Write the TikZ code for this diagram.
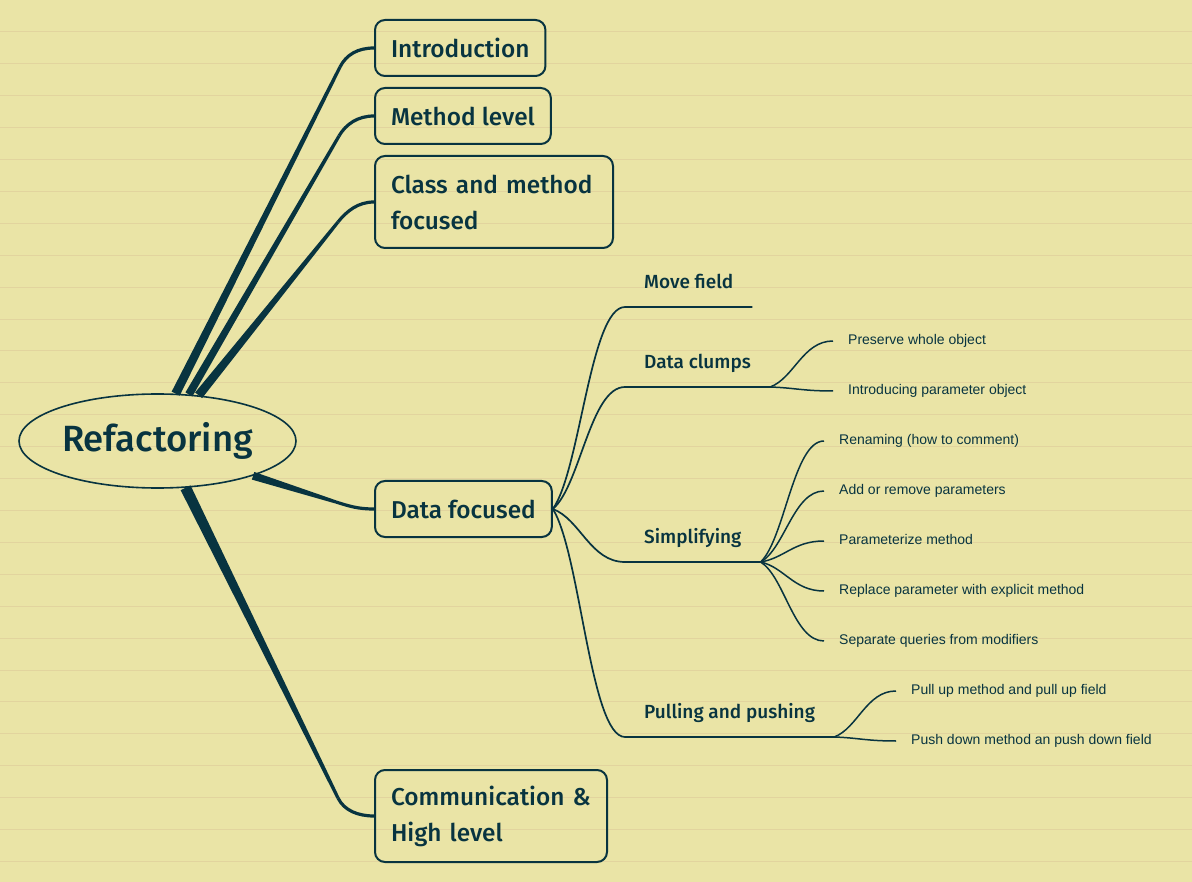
\documentclass[tikz,border=0pt]{standalone}
\usepackage{fontspec}
\setmainfont{Fira Sans}[BoldFont={Fira Sans Medium}]
\newfontfamily\leaffont{Liberation Sans}
\usepackage{tikz}
\usetikzlibrary{calc, shapes.geometric}
\definecolor{mm_ink}{RGB}{8, 52, 64}
\definecolor{mm_paper}{RGB}{234, 228, 166}
\definecolor{mm_rule}{RGB}{226, 212, 158}

% tapered main branch: start, corner, end, half width at start
\newcommand{\taper}[4]{%
  \fill[mm_ink] ($(#1)!#4!90:(#2)$) -- ($(#2)!1.6pt!-90:(#1)$)
    -- ($(#2)!1.6pt!90:(#1)$) -- ($(#1)!#4!-90:(#2)$) -- cycle;
  \draw[mm_ink, line width=3.2pt] (#2) .. controls ($(#2)!-14pt!(#1)$)
    and ($(#3)+(-16,0)$) .. (#3);
}

\begin{document}
\begin{tikzpicture}[x=1pt, y=-1pt,
    topic/.style={rectangle, rounded corners=10pt, draw=mm_ink, line width=2pt,
                  font=\fontsize{24.4}{36}\selectfont\bfseries, text=mm_ink,
                  align=left, anchor=west, inner xsep=16pt, inner ysep=6pt,
                  minimum height=56pt},
    sub/.style={font=\fontsize{19}{22}\selectfont\bfseries, text=mm_ink,
                anchor=south west, inner xsep=19pt, inner ysep=14pt,
                text height=14pt, text depth=4pt},
    leaf/.style={font=\leaffont\fontsize{14}{16}\selectfont, text=mm_ink,
                 anchor=west, inner xsep=15pt, text height=10pt, text depth=3pt},
    twig/.style={draw=mm_ink, line width=1.7pt},
    leafline/.style={draw=mm_ink, line width=1.5pt},
    curvy/.style={to path={let \p1=(\tikztostart), \p2=(\tikztotarget) in
        .. controls ($(\p1)+({0.38*(\x2-\x1)},{0.19*(\y2-\y1)})$)
        and ($(\p2)+({-0.48*(\x2-\x1)},0)$) .. (\tikztotarget)}},
  ]
  \useasboundingbox (0,0) rectangle (1192,882);
  \fill[mm_paper] (0,0) rectangle (1192,882);
  \foreach \k in {1,...,27}
    \draw[mm_rule, line width=0.8pt] (0,{31.9*\k}) -- (1192,{31.9*\k});

  % root
  \node[ellipse, draw=mm_ink, line width=1.6pt, minimum width=277pt,
        minimum height=94pt, inner sep=0pt, text=mm_ink,
        font=\fontsize{36.5}{40}\selectfont\bfseries] (root) at (157.5,441) {Refactoring};

  % topics
  \node[topic] (intro) at (374,48) {Introduction};
  \node[topic] (meth) at (374,116) {Method level};
  \node[topic, minimum height=92pt, text width=206pt] (cls) at (374,202)
    {Class and method\\focused};
  \node[topic] (data) at (374,509) {Data focused};
  \node[topic, minimum height=92pt, text width=200pt] (comm) at (374,816)
    {Communication \&\\High level};

  \coordinate (c1) at (340,67);
  \coordinate (c2) at (339,136);
  \coordinate (c3) at (338,222);
  \coordinate (c4) at (336,502);
  \coordinate (c5) at (338,798);
  \taper{root.69}{c1}{intro.west}{4.5pt}
  \taper{root.56}{c2}{meth.west}{4pt}
  \taper{root.48}{c3}{cls.west}{4.5pt}
  \taper{root.-20}{c4}{data.west}{4pt}
  \taper{root.-59}{c5}{comm.west}{5.5pt}

  % subtopics of Data focused
  \node[sub] (mf) at (625,307) {Move field};
  \node[sub] (dc) at (625,387) {Data clumps};
  \node[sub] (simp) at (625,562) {Simplifying};
  \node[sub] (pp) at (625,737) {Pulling and pushing};

  \draw[twig] (data.east) to[curvy] (mf.south west) -- (mf.south east);
  \draw[twig] (data.east) to[curvy] (dc.south west) -- (dc.south east);
  \draw[twig] (data.east) to[curvy] (simp.south west) -- (simp.south east);
  \draw[twig] (data.east) to[curvy] (pp.south west) -- (pp.south east);

  % leaves
  \node[leaf] (pwo) at (833,341) {Preserve whole object};
  \node[leaf] (ipo) at (833,391) {Introducing parameter object};
  \node[leaf] (ren) at (824,441) {Renaming (how to comment)};
  \node[leaf] (arp) at (824,491) {Add or remove parameters};
  \node[leaf] (pm) at (824,541) {Parameterize method};
  \node[leaf] (rpm) at (824,591) {Replace parameter with explicit method};
  \node[leaf] (sqm) at (824,641) {Separate queries from modifiers};
  \node[leaf] (pum) at (896,691) {Pull up method and pull up field};
  \node[leaf] (pdm) at (896,741) {Push down method an push down field};

  \draw[leafline] (dc.south east) to[curvy] (pwo.west);
  \draw[leafline] (dc.south east) to[curvy] (ipo.west);
  \foreach \leafname in {ren, arp, pm, rpm, sqm}
    \draw[leafline] (simp.south east) to[curvy] (\leafname.west);
  \draw[leafline] (pp.south east) to[curvy] (pum.west);
  \draw[leafline] (pp.south east) to[curvy] (pdm.west);
\end{tikzpicture}
\end{document}
